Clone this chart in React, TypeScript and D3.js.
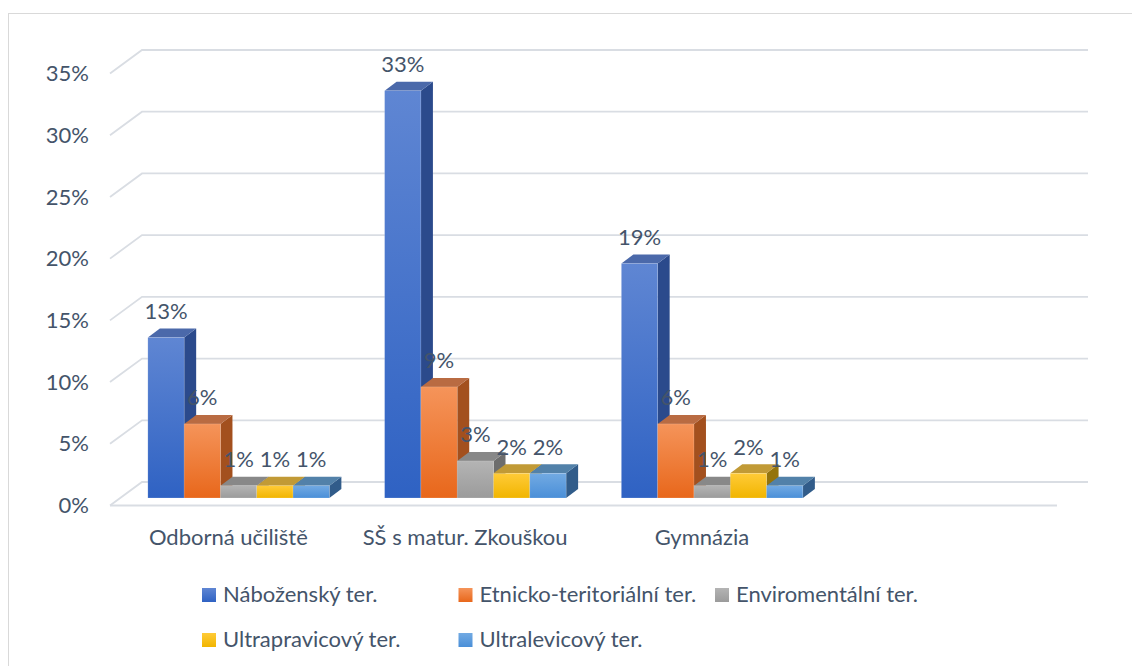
import React from "react";
import * as d3 from "d3";

// chart data (percent)
const categories = ["Odborná učiliště", "SŠ s matur. Zkouškou", "Gymnázia", ""];
const seriesNames = [
  "Náboženský ter.",
  "Etnicko-teritoriální ter.",
  "Enviromentální ter.",
  "Ultrapravicový ter.",
  "Ultralevicový ter.",
];
const nabozensky = [13, 33, 19];
const etnicko = [6, 9, 6];
const enviromentalni = [1, 3, 1];
const ultrapravicovy = [1, 2, 2];
const ultralevicovy = [1, 2, 1];
const yTicks = [0, 5, 10, 15, 20, 25, 30, 35];

const seriesValues = [nabozensky, etnicko, enviromentalni, ultrapravicovy, ultralevicovy];

// colours per series: front top, front bottom, side, top
const palette = [
  { a: "#5f86d3", b: "#2f62c3", side: "#2b4a8c", top: "#4b69aa" },
  { a: "#f5945a", b: "#e8671b", side: "#a3501e", top: "#b96b42" },
  { a: "#b4b4b4", b: "#9b9b9b", side: "#6d6d6d", top: "#888888" },
  { a: "#ffcb38", b: "#f1b500", side: "#94740c", top: "#c19a36" },
  { a: "#72aae3", b: "#4a8fd8", side: "#315c8a", top: "#5281a9" },
];

const FONT = "Lato, 'Liberation Sans', sans-serif";
const TEXT = "#44546a";
const GRID = "#d9dde3";

// 3D geometry: the floor goes back by (dx, dy)
const FLOOR_DX = 32;
const FLOOR_DY = -23.5;
const FRONT_LEFT = 110;
const FRONT_RIGHT = 1057;
const BAR_SHIFT = 0.68; // bar front plane, fraction of depth from back
const BAR_DX = 12;
const BAR_DY = -9;

export default function App() {
  // y on the back wall
  const yBack = d3.scaleLinear().domain([0, 35]).range([482, 50]);
  const yFront = (v: number) => yBack(v) - FLOOR_DY;
  const yBar = (v: number) => yBack(v) - FLOOR_DY * BAR_SHIFT;

  const xFront = d3.scaleBand<string>().domain(categories).range([FRONT_LEFT, FRONT_RIGHT]);
  const barOffset = FLOOR_DX * (1 - BAR_SHIFT);
  const xBar = d3
    .scaleBand<string>()
    .domain(categories)
    .range([FRONT_LEFT + barOffset, FRONT_RIGHT + barOffset]);
  const groupW = 181.5;
  const xInner = d3
    .scaleBand<string>()
    .domain(seriesNames)
    .range([(xBar.bandwidth() - groupW) / 2, (xBar.bandwidth() + groupW) / 2]);
  const bw = xInner.bandwidth();

  const bars: any[] = [];
  const labels: any[] = [];
  categories.forEach((cat, ci) => {
    seriesNames.forEach((s, si) => {
      const v = seriesValues[si][ci];
      if (v === undefined) return;
      const x = (xBar(cat) as number) + (xInner(s) as number);
      const y0 = yBar(0);
      const y1 = yBar(v);
      const c = palette[si];
      const side = [
        [x + bw, y1],
        [x + bw + BAR_DX, y1 + BAR_DY],
        [x + bw + BAR_DX, y0 + BAR_DY],
        [x + bw, y0],
      ];
      const top = [
        [x, y1],
        [x + BAR_DX, y1 + BAR_DY],
        [x + bw + BAR_DX, y1 + BAR_DY],
        [x + bw, y1],
      ];
      bars.push(
        <g key={`${ci}-${si}`}>
          <polygon points={side.map((p) => p.join(",")).join(" ")} fill={c.side} />
          <polygon points={top.map((p) => p.join(",")).join(" ")} fill={c.top} />
          <rect
            x={x}
            y={y1}
            width={bw}
            height={y0 - y1}
            fill={`url(#front-${si})`}
            stroke="rgba(255,255,255,0.25)"
            strokeWidth={0.6}
          />
        </g>
      );
      labels.push(
        <text
          key={`l-${ci}-${si}`}
          x={x + bw / 2}
          y={y1 - 18.5}
          textAnchor="middle"
          fontSize={22}
          fill={TEXT}
          fontFamily={FONT}
        >
          {`${v}%`}
        </text>
      );
    });
  });

  return (
    <svg
      width={1132}
      height={666}
      style={{ position: "absolute", left: 0, top: 0, background: "#fff" }}
    >
      <defs>
        {palette.map((c, i) => (
          <linearGradient key={i} id={`front-${i}`} x1="0" y1="0" x2="0" y2="1">
            <stop offset="0%" stopColor={c.a} />
            <stop offset="100%" stopColor={c.b} />
          </linearGradient>
        ))}
      </defs>

      {/* chart area border */}
      <rect x={8.5} y={13.5} width={1200} height={700} fill="none" stroke="#d9d9d9" strokeWidth={1} />

      {/* walls: gridlines with left diagonals */}
      {yTicks.map((t) => (
        <polyline
          key={t}
          points={`${FRONT_LEFT},${yFront(t)} ${FRONT_LEFT + FLOOR_DX},${yBack(t)} ${FRONT_RIGHT + FLOOR_DX - 1},${yBack(t)}`}
          fill="none"
          stroke={GRID}
          strokeWidth={1.8}
        />
      ))}
      <line
        x1={FRONT_LEFT}
        x2={FRONT_RIGHT}
        y1={yFront(0)}
        y2={yFront(0)}
        stroke={GRID}
        strokeWidth={1.8}
      />

      {/* y tick labels */}
      {yTicks.map((t) => (
        <text
          key={`yt-${t}`}
          x={89}
          y={yFront(t)}
          dy="0.35em"
          textAnchor="end"
          fontSize={22}
          fill={TEXT}
          fontFamily={FONT}
        >
          {`${t}%`}
        </text>
      ))}

      {bars}
      {labels}

      {/* category labels */}
      {categories.map((c) => (
        <text
          key={`c-${c}`}
          x={(xFront(c) as number) + xFront.bandwidth() / 2}
          y={545}
          textAnchor="middle"
          fontSize={22}
          fill={TEXT}
          fontFamily={FONT}
        >
          {c}
        </text>
      ))}

      {/* legend */}
      {seriesNames.map((s, i) => {
        const lx = 202 + (i % 3) * 256.5;
        const ly = 588 + Math.floor(i / 3) * 45;
        return (
          <g key={`lg-${i}`}>
            <rect x={lx} y={ly} width={14} height={14} fill={`url(#front-${i})`} />
            <text x={lx + 21} y={ly + 14} fontSize={22} fill={TEXT} fontFamily={FONT}>
              {s}
            </text>
          </g>
        );
      })}
    </svg>
  );
}
